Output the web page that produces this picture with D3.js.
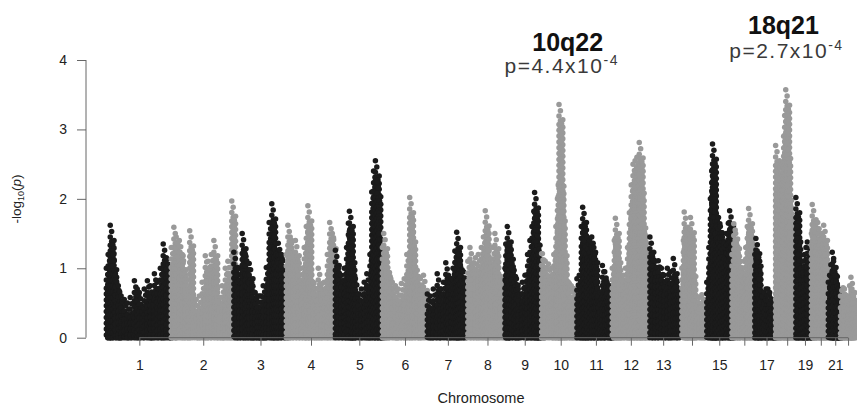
<!DOCTYPE html>
<html>
<head>
<meta charset="utf-8">
<script src="https://cdnjs.cloudflare.com/ajax/libs/d3/7.8.5/d3.min.js"></script>
<style>
  body { margin: 0; background: #fff; }
  svg { display: block; font-family: "Liberation Sans", Arial, Helvetica, sans-serif; }
</style>
</head>
<body>
<script>
// Chromosomes and their lengths (Mb, hg19).
var chromosomes = ["1","2","3","4","5","6","7","8","9","10","11",
                   "12","13","14","15","16","17","18","19","20","21","22"];
var chromLengths = [249, 243, 198, 191, 181, 171, 159, 146, 141, 136, 135,
                    134, 115, 107, 103, 90, 81, 78, 59, 63, 48, 51];
// R drops the labels that would collide.
var tickLabels = ["1","2","3","4","5","6","7","8","9","10","11",
                  "12","13","","15","","17","","19","","21",""];
var yTicks = [0, 1, 2, 3, 4];

// Top of each clump of SNPs: [position in chromosome (Mb), -log10(p)].
var chr1 = [[4,1.0],[11,1.2],[19,1.62],[29,1.2],[38,0.9],[50,0.75],[61,0.6],[73,0.55],[85,0.5],[96,0.58],
            [112,0.82],[123,0.7],[131,0.65],[150,0.7],[162,0.82],[173,0.75],[189,0.92],[200,0.8],[212,1.0],
            [223,1.35],[235,1.15],[243,1.05]];
var chr2 = [[5,1.3],[15,1.59],[24,1.45],[36,1.4],[47,1.2],[59,0.68],[68,0.7],[76,1.54],[90,0.58],[101,0.55],
            [113,0.6],[124,0.8],[136,1.18],[147,1.1],[159,1.2],[169,1.4],[178,0.8],[190,0.4],[201,0.75],
            [213,1.0],[223,1.1],[230,0.9],[238,1.97]];
var chr3 = [[3,1.23],[12,0.9],[24,1.0],[35,1.5],[47,1.2],[54,0.9],[62,1.07],[74,0.75],[85,0.65],[93,0.6],
            [101,0.6],[108,0.6],[116,0.75],[128,1.01],[139,1.66],[149,1.93],[159,1.45],[166,1.2],[174,1.36],
            [186,1.2],[196,1.0]];
var chr4 = [[7,1.2],[13,1.62],[22,1.45],[34,1.2],[42,1.4],[53,0.9],[65,1.0],[76,1.3],[84,1.6],[90,1.9],
            [99,1.0],[111,0.8],[122,0.7],[130,1.0],[142,0.7],[153,0.8],[165,1.2],[174,1.66],[184,1.5]];
var chr5 = [[5,1.26],[16,1.0],[28,0.9],[39,1.0],[48,1.3],[55,1.65],[59,1.82],[65,1.3],[72,0.85],[82,0.85],
            [93,0.63],[105,0.7],[116,0.8],[126,0.92],[138,1.2],[145,2.1],[152,2.4],[159,2.55],[165,2.25],
            [172,1.5],[178,1.3]];
var chr6 = [[5,1.3],[10,1.5],[20,1.1],[32,0.94],[43,0.8],[55,0.75],[66,0.7],[78,0.78],[89,0.85],[99,1.2],
            [110,2.02],[118,1.6],[128,1.0],[139,0.97],[151,0.85],[163,0.9]];
var chr7 = [[7,0.63],[18,0.6],[30,0.7],[45,0.92],[57,0.7],[69,0.8],[78,1.08],[88,0.9],[99,0.85],[106,1.0],
            [113,1.25],[120,1.52],[126,1.2],[134,1.05],[146,0.95]];
var chr8 = [[4,1.1],[12,1.3],[21,1.0],[33,1.15],[44,1.2],[56,1.3],[64,1.45],[71,1.83],[79,1.35],[90,1.0],
            [100,1.3],[108,1.5],[117,1.1],[129,0.8],[140,0.7]];
var chr9 = [[1,1.0],[4,1.35],[10,1.6],[18,1.35],[26,1.0],[36,0.97],[45,0.85],[52,0.7],[68,0.8],[78,0.9],
            [88,1.2],[97,1.4],[105,1.6],[112,1.82],[115,2.09],[121,1.55],[128,1.2],[136,1.0]];
var chr10 = [[1,1.21],[4,1.21],[15,1.1],[27,1.06],[38,1.0],[48,1.2],[56,1.6],[62,2.0],[65,2.2],[68,3.36],
             [72,2.4],[77,1.9],[84,1.4],[93,1.0],[104,0.8],[115,0.75],[125,0.71],[133,0.6]];
var chr11 = [[1,0.85],[10,0.9],[18,1.6],[23,1.88],[29,1.4],[36,1.2],[42,1.44],[50,1.4],[58,1.45],[66,1.3],
             [74,0.8],[82,0.6],[90,0.65],[99,1.04],[108,0.95],[117,0.8],[126,0.75],[133,0.7]];
var chr12 = [[2,1.0],[10,1.4],[14,1.72],[20,1.3],[28,0.9],[37,0.85],[45,0.9],[53,1.0],[61,1.3],[68,1.8],
             [75,2.2],[82,2.5],[90,2.55],[97,2.6],[106,2.81],[110,2.3],[116,1.8],[123,1.4],[130,1.45]];
var chr13 = [[13,1.45],[22,1.2],[34,1.1],[45,1.11],[57,1.0],[68,0.9],[80,1.0],[91,0.95],[103,1.14],[112,0.9]];
var chr14 = [[21,1.0],[27,1.4],[30,1.81],[36,1.5],[42,1.3],[48,1.5],[54,1.73],[60,1.1],[67,0.7],[77,0.6],
             [88,0.58],[98,0.62],[105,0.55]];
var chr15 = [[10,0.8],[18,1.3],[24,2.0],[29,2.4],[32,2.79],[36,1.9],[42,1.5],[48,1.6],[55,1.73],[62,1.6],
             [70,1.45],[78,1.3],[86,1.5],[93,1.65],[98,1.83],[102,1.3]];
var chr16 = [[4,1.2],[11,1.64],[18,1.5],[26,1.2],[34,1.1],[42,0.9],[50,1.1],[57,1.3],[63,1.6],[68,1.86],
             [74,1.55],[81,1.3],[88,1.0]];
var chr17 = [[2,1.2],[6,1.43],[11,1.25],[17,0.85],[24,0.68],[31,0.6],[38,0.65],[45,0.7],[52,0.7],[59,0.65],
             [66,0.55],[72,0.5],[78,0.5]];
var chr18 = [[1,2.77],[4,2.4],[8,2.2],[12,2.3],[17,2.45],[22,2.2],[27,2.5],[32,2.9],[36,3.2],[40,3.57],
             [44,2.8],[48,2.2],[53,1.6],[58,1.5],[64,1.3],[70,1.1],[75,0.9]];
var chr19 = [[1,2.02],[5,1.6],[10,1.2],[16,1.0],[22,1.0],[28,1.1],[34,1.2],[40,1.3],[45,1.38],[50,1.1],[56,0.9]];
var chr20 = [[2,1.5],[5,1.92],[10,1.6],[16,1.4],[21,1.3],[26,1.66],[32,1.5],[38,1.4],[44,1.5],[49,1.62],
             [55,1.2],[61,0.9]];
var chr21 = [[4,0.8],[9,0.9],[14,1.05],[19,1.23],[24,1.1],[29,0.9],[34,0.8],[39,0.75],[44,0.7],[47,0.6]];
var chr22 = [[3,0.6],[8,0.68],[13,0.72],[18,0.7],[23,0.6],[28,0.55],[33,0.6],[38,0.75],[43,0.87],[47,0.7],[50,0.5]];
var peakTables = [chr1, chr2, chr3, chr4, chr5, chr6, chr7, chr8, chr9, chr10, chr11,
                  chr12, chr13, chr14, chr15, chr16, chr17, chr18, chr19, chr20, chr21, chr22];

// Annotated loci.
var lociNames = ["10q22", "18q21"];
var lociChrom = [10, 18];
var lociPos = [68, 40];
var lociP = ["4.4", "2.7"];
var lociExp = ["-4", "-4"];

// Layout.
var width = 857,
  height = 407,
  dotRadius = 2.75,
  colors = ["#1b1b1b", "#999999"],
  titleY = [51, 34], titleDx = [7, -4],
  pY = [73, 58], pDx = [1, -1];

var cumStart = [];
chromLengths.reduce(function(acc, len, i) { cumStart[i] = acc; return acc + len; }, 0);
var total = d3.sum(chromLengths);

var x = d3.scaleLinear().domain([0, total]).range([107, 854.7]),
  y = d3.scaleLinear().domain([0, 4]).range([337.7, 60]);

var svg = d3.select("body").append("svg")
    .attr("width", width)
    .attr("height", height);

// A chain of dots from the top of a clump down to 0: sparse at the top,
// packed lower down, as the SNP density of a Manhattan plot.
function chain(top, firstGap) {
  var vals = [], v = top, k = 0;
  while (v > 0) {
    vals.push(v);
    v -= Math.max(0.042, firstGap - 0.012 * k);
    k++;
  }
  vals.push(0);
  return vals;
}

var points = [];
peakTables.forEach(function(table, ci) {
  table.forEach(function(p) {
    var gx = x(cumStart[ci] + p[0]);
    chain(p[1], 0.09).forEach(function(v, k) {
      points.push({x: gx - 1 + (k % 2 ? 0.7 : -0.7), y: y(v), c: ci % 2});
    });
    chain(p[1] - 0.22, 0.06).forEach(function(v, k) {
      points.push({x: gx + 1.5 + (k % 2 ? -0.6 : 0.6), y: y(v), c: ci % 2});
    });
  });
});

svg.append("g").selectAll("circle")
    .data(points)
  .join("circle")
    .attr("cx", function(d) { return d.x; })
    .attr("cy", function(d) { return d.y; })
    .attr("r", dotRadius)
    .attr("fill", function(d) { return colors[d.c]; });

// Y axis.
var yAxis = svg.append("g")
    .attr("transform", "translate(86,0)")
    .call(d3.axisLeft(y).tickValues(yTicks).tickFormat(d3.format("d"))
      .tickSize(9).tickPadding(10).tickSizeOuter(0));
yAxis.select(".domain").remove();
yAxis.append("line")
    .attr("y1", y(0)).attr("y2", y(4))
    .attr("stroke", "#666");

// X axis: ticks at chromosome centres.
var centres = chromLengths.map(function(len, i) { return cumStart[i] + len / 2; });
var xAxis = svg.append("g")
    .attr("transform", "translate(0," + y(0) + ")")
    .call(d3.axisBottom(x).tickValues(centres)
      .tickFormat(function(d, i) { return tickLabels[i]; })
      .tickSize(8).tickPadding(14).tickSizeOuter(0));
xAxis.select(".domain").remove();
xAxis.append("line")
    .attr("x1", x(centres[0])).attr("x2", x(centres[centres.length - 1]))
    .attr("stroke", "#666");

svg.selectAll(".tick line").attr("stroke", "#666");
svg.selectAll(".tick text")
    .style("font-size", "14px")
    .attr("fill", "#222");

// Axis titles.
svg.append("text")
    .attr("x", 481).attr("y", 403)
    .attr("text-anchor", "middle")
    .style("font-size", "14.5px")
    .attr("fill", "#222")
    .text("Chromosome");

var ylab = svg.append("text")
    .attr("transform", "translate(21,199) rotate(-90)")
    .attr("text-anchor", "middle")
    .style("font-size", "13.5px")
    .attr("fill", "#222");
ylab.append("tspan").text("-log");
ylab.append("tspan").attr("dy", 3).style("font-size", "9px").text("10");
ylab.append("tspan").attr("dy", -3).text("(");
ylab.append("tspan").style("font-style", "italic").text("p");
ylab.append("tspan").text(")");

// Locus annotations.
lociNames.forEach(function(name, i) {
  var cx = x(cumStart[lociChrom[i] - 1] + lociPos[i]);
  svg.append("text")
      .attr("x", cx + titleDx[i]).attr("y", titleY[i])
      .attr("text-anchor", "middle")
      .style("font-size", "25px")
      .style("font-weight", "bold")
      .attr("fill", "#111")
      .text(name);
  var t = svg.append("text")
      .attr("x", cx + pDx[i]).attr("y", pY[i])
      .attr("text-anchor", "middle")
      .style("font-size", "21px")
      .style("letter-spacing", "1.5px")
      .attr("fill", "#3a3a3a");
  t.append("tspan").text("p=" + lociP[i] + "x10");
  t.append("tspan").attr("dy", -8).style("font-size", "14px").text(lociExp[i]);
});
</script>
</body>
</html>
